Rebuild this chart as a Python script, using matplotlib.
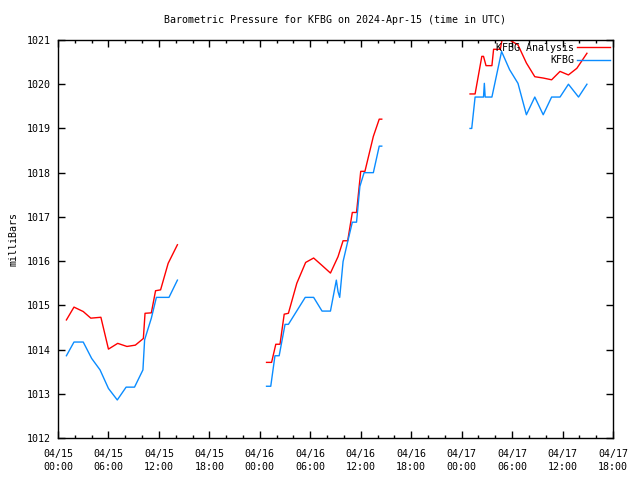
import numpy as np
import matplotlib
matplotlib.use("Agg")
import matplotlib.pyplot as plt
from matplotlib.ticker import MultipleLocator

# hours since 2024-04-15 00:00 UTC
analysis_hours = [1.0, 1.9, 3.0, 3.9, 5.1, 6.0, 7.1, 8.2, 9.2, 10.15, 10.35, 11.1, 11.6, 12.2, 13.1, 14.2,
                  None,
                  24.8, 25.4, 25.9, 26.4, 26.9, 27.4, 28.4, 29.45, 30.4, 31.35, 32.4, 33.3, 33.9, 34.45,
                  35.0, 35.5, 36.0, 36.5, 37.5, 38.2, 38.5,
                  None,
                  49.0, 49.6, 50.4, 50.6, 50.9, 51.6, 51.8, 52.6, 52.8, 53.7, 54.7, 55.7, 56.7, 57.7,
                  58.7, 59.7, 60.7, 61.7, 62.9]
analysis_mb = [1014.67, 1014.96, 1014.86, 1014.71, 1014.73, 1014.01, 1014.14, 1014.07, 1014.10, 1014.25, 1014.82,
               1014.83, 1015.33, 1015.35, 1015.95, 1016.37,
               None,
               1013.71, 1013.71, 1014.12, 1014.12, 1014.80, 1014.82, 1015.50, 1015.97, 1016.07, 1015.91, 1015.73,
               1016.10, 1016.46, 1016.46, 1017.10, 1017.10, 1018.03, 1018.03, 1018.82, 1019.21, 1019.21,
               None,
               1019.78, 1019.78, 1020.63, 1020.63, 1020.42, 1020.42, 1020.79, 1020.79, 1021.0, 1021.0, 1020.89,
               1020.48, 1020.17, 1020.14, 1020.10, 1020.29, 1020.21, 1020.36, 1020.70]

obs_hours = [1.0, 1.9, 3.0, 4.0, 5.0, 6.0, 7.05, 8.1, 9.1, 10.1, 10.3, 11.1, 11.7, 13.2, 14.2,
             None,
             24.8, 25.3, 25.8, 26.3, 27.0, 27.4, 29.4, 30.4, 31.4, 32.4, 33.1, 33.3, 33.5, 33.9, 34.5,
             35.0, 35.5, 35.9, 36.4, 37.5, 38.2, 38.5,
             None,
             49.0, 49.2, 49.6, 50.6, 50.7, 50.8, 51.6, 52.75, 53.7, 54.7, 55.7, 56.7, 57.7, 58.7, 59.7,
             60.7, 61.9, 62.9]
obs_mb = [1013.86, 1014.17, 1014.17, 1013.80, 1013.54, 1013.12, 1012.86, 1013.15, 1013.15, 1013.54, 1014.22,
          1014.71, 1015.18, 1015.18, 1015.57,
          None,
          1013.17, 1013.17, 1013.86, 1013.86, 1014.57, 1014.57, 1015.18, 1015.18, 1014.87, 1014.87, 1015.57,
          1015.31, 1015.18, 1015.99, 1016.48, 1016.88, 1016.88, 1017.69, 1018.0, 1018.0, 1018.6, 1018.6,
          None,
          1019.0, 1019.0, 1019.71, 1019.71, 1020.02, 1019.71, 1019.71, 1020.74, 1020.33, 1020.02, 1019.31,
          1019.71, 1019.31, 1019.71, 1019.71, 1020.0, 1019.71, 1020.0]

xtick_hours = list(range(0, 67, 6))
xtick_labels = ["04/15\n00:00", "04/15\n06:00", "04/15\n12:00", "04/15\n18:00",
                "04/16\n00:00", "04/16\n06:00", "04/16\n12:00", "04/16\n18:00",
                "04/17\n00:00", "04/17\n06:00", "04/17\n12:00", "04/17\n18:00"]
ytick_vals = list(range(1012, 1022))

def arr(v):
    return np.array([np.nan if x is None else x for x in v], dtype=float)

FS = 7.2
plt.rcParams['font.family'] = ['DejaVu Sans Mono']
fig = plt.figure(figsize=(6.4, 4.8), dpi=100)
ax = fig.add_axes([58/640, 42/480, 555/640, 398/480])

ax.plot(arr(analysis_hours), arr(analysis_mb), color='#ff0000', lw=1.0, label='KFBG Analysis')
ax.plot(arr(obs_hours), arr(obs_mb), color='#0a8cff', lw=1.0, label='KFBG')

ax.set_xlim(0, 66)
ax.set_ylim(1012, 1021)
ax.set_xticks(xtick_hours)
ax.set_xticklabels(xtick_labels, fontsize=FS, linespacing=1.35)
ax.xaxis.set_minor_locator(MultipleLocator(2))
ax.set_yticks(ytick_vals)
ax.set_yticklabels([str(v) for v in ytick_vals], fontsize=FS)
ax.tick_params(which='major', direction='in', length=5, width=1, top=True, right=True)
ax.tick_params(which='minor', direction='in', length=2.5, width=1, top=True, right=True)
ax.tick_params(axis='x', which='major', pad=8)
ax.tick_params(axis='y', which='major', pad=5)
for s in ax.spines.values():
    s.set_linewidth(1.0)
ax.set_ylabel('milliBars', fontsize=FS, labelpad=6)
ax.set_title('Barometric Pressure for KFBG on 2024-Apr-15 (time in UTC)', fontsize=FS, pad=12)

leg = ax.legend(loc='upper right', bbox_to_anchor=(1.0, 1.0), frameon=False, markerfirst=False,
                fontsize=FS, handlelength=3.3, handletextpad=0.3, borderaxespad=0.0,
                borderpad=0.3, labelspacing=0.25)

fig.savefig('out.png', dpi=100)
